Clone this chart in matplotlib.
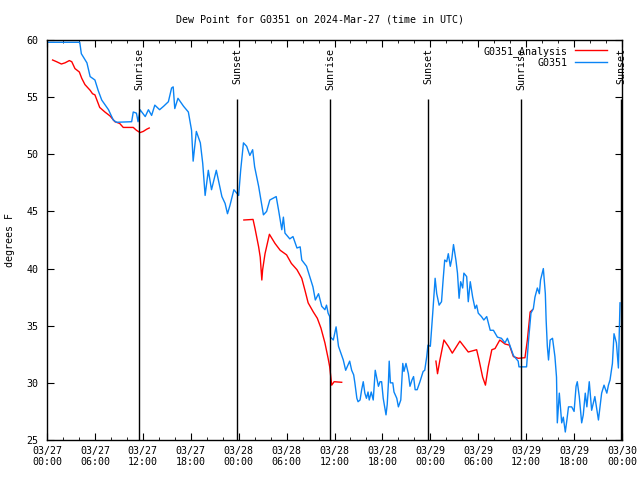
"""Dew point chart for station G0351, gnuplot-style look."""

import matplotlib

matplotlib.use("Agg")

import matplotlib.pyplot as plt  # noqa: E402
import numpy as np  # noqa: E402
from matplotlib.ticker import MultipleLocator  # noqa: E402

nan = np.nan

# hours since 2024-03-27 00:00 UTC
obs_hours = [
    0, 4.1, 4.3, 5.0, 5.4, 6.0, 6.4, 6.85, 7.7, 8.3, 8.7, 10.6, 10.8, 11.2, 11.4,
    11.65, 12.3, 12.7, 13.1, 13.5, 14.1, 14.6, 15.2, 15.6, 15.8, 16.0, 16.4, 17.1,
    17.7, 18.1, 18.3, 18.7, 19.2, 19.5, 19.8, 20.2, 20.6, 21.2, 21.9, 22.3, 22.6,
    22.9, 23.4, 24.0, 24.25, 24.6, 25.0, 25.4, 25.75, 26.0, 26.5, 27.1, 27.5, 27.9,
    28.7, 29.0, 29.4, 29.6, 29.8, 30.4, 30.8, 31.3, 31.7, 31.9, 32.5, 32.9, 33.3,
    33.6, 34.0, 34.4, 34.8, 35.0, 35.2, 35.4, 35.5, 35.85, 36.2, 36.5, 37.1, 37.4,
    37.9, 38.15, 38.4, 38.55, 38.8, 38.95, 39.2, 39.4, 39.6, 39.8, 40.0, 40.2,
    40.35, 40.6, 40.85, 41.1, 41.3, 41.5, 41.7, 41.9, 42.1, 42.3, 42.45, 42.6,
    42.75, 42.85, 43.0, 43.3, 43.45, 43.8, 44.0, 44.3, 44.55, 44.7, 44.95, 45.25,
    45.45, 45.7, 45.9, 46.1, 46.35, 46.7, 47.1, 47.3, 47.55, 47.7, 48.0, 48.3,
    48.6, 48.8, 49.1, 49.4, 49.6, 49.8, 50.05, 50.25, 50.5, 50.7, 50.9, 51.2,
    51.4, 51.6, 51.8, 52.05, 52.2, 52.55, 52.75, 53.0, 53.3, 53.6, 53.8, 54.0,
    54.4, 54.7, 55.06, 55.5, 55.9, 56.4, 56.9, 57.35, 57.65, 58.0, 58.4, 59.0,
    59.1, 60.05, 60.3, 60.6, 60.9, 61.1, 61.4, 61.65, 61.8, 62.15, 62.4, 62.5,
    62.65, 62.8, 63.0, 63.3, 63.6, 63.8, 63.9, 64.15, 64.45, 64.65, 64.9, 65.1,
    65.3, 65.7, 66.0, 66.25, 66.4, 66.65, 66.95, 67.15, 67.4, 67.6, 67.9, 68.2,
    68.6, 69.05, 69.45, 69.75, 70.1, 70.3, 70.5, 70.8, 71.0, 71.3, 71.55, 71.75,
]
obs_dewpt = [
    59.8, 59.8, 58.8, 58.0, 56.8, 56.5, 55.6, 54.75, 53.9, 53.0, 52.8, 52.85, 53.7,
    53.6, 52.85, 53.9, 53.3, 53.9, 53.4, 54.3, 53.9, 54.2, 54.6, 55.8, 55.9, 54.0,
    54.9, 54.2, 53.7, 52.1, 49.4, 52.0, 51.0, 49.2, 46.4, 48.6, 46.9, 48.6, 46.3,
    45.7, 44.8, 45.5, 46.9, 46.4, 48.6, 51.0, 50.7, 49.9, 50.4, 48.9, 47.2, 44.7,
    45.0, 46.0, 46.3, 45.1, 43.4, 44.5, 43.1, 42.6, 42.8, 41.8, 41.9, 40.75, 40.2,
    39.3, 38.4, 37.25, 37.8, 36.7, 36.4, 36.8, 36.1, 35.8, 34.0, 33.75, 34.9,
    33.2, 32.0, 31.1, 31.9, 31.1, 30.7, 30.0, 28.65, 28.35, 28.5, 29.4, 30.1,
    29.1, 28.65, 29.2, 28.5, 29.2, 28.5, 31.1, 30.4, 29.7, 30.1, 30.1, 28.65,
    27.8, 27.2, 28.1, 30.0, 31.9, 30.0, 30.0, 29.2, 28.65, 27.9, 28.5, 31.7, 31.0,
    31.7, 30.8, 29.7, 30.25, 30.55, 29.4, 29.4, 30.1, 31.0, 31.1, 32.3, 33.3,
    33.2, 36.1, 39.15, 37.8, 36.8, 37.1, 39.0, 40.75, 40.6, 41.3, 40.2, 40.9,
    42.1, 40.75, 39.6, 37.4, 38.85, 38.3, 39.6, 39.3, 37.1, 38.85, 37.5, 36.5,
    36.8, 36.1, 35.8, 35.5, 35.8, 34.6, 34.6, 34.0, 33.9, 33.5, 33.9, 33.2, 32.4,
    31.9, 31.4, 31.4, 33.75, 36.1, 36.5, 37.5, 38.3, 37.8, 39.0, 40.0, 37.8, 35.5,
    33.2, 32.0, 33.75, 33.9, 32.3, 30.5, 26.5, 29.1, 26.5, 27.0, 25.7, 26.75,
    27.9, 27.9, 27.5, 29.7, 30.1, 28.8, 26.5, 27.2, 29.1, 27.9, 30.1, 27.6, 28.8,
    26.75, 29.1, 29.8, 29.1, 29.8, 30.25, 31.7, 34.3, 33.5, 31.3, 37.0,
]

ana_hours = [
    0.7, 1.2, 1.8, 2.25, 2.8, 3.1, 3.5, 4.05, 4.35, 4.75, 5.4, 5.7, 6.0, 6.6, 7.25,
    7.9, 8.5, 9.1, 9.55, 10.8, 11.2, 11.65, 12.05, 12.5, 12.8,
    18.0,
    24.65, 25.8, 26.05, 26.5, 26.7, 26.9, 27.0, 27.3, 27.85, 28.55, 29.2, 30.0,
    30.6, 31.3, 31.9, 32.3, 32.7, 33.35, 33.85, 34.3, 34.8, 35.2, 35.4, 35.65,
    35.95, 36.9,
    42.0,
    48.7, 48.9, 49.2, 49.7, 50.25, 50.75, 51.7, 52.75, 53.8, 54.1, 54.55, 54.9,
    55.25, 55.7, 56.1, 56.7, 57.35, 57.9, 58.4, 59.0, 59.85, 60.15, 60.5, 60.8,
]
ana_dewpt = [
    58.25, 58.1, 57.9, 58.0, 58.2, 58.1, 57.5, 57.2, 56.65, 56.1, 55.6, 55.3, 55.2,
    54.1, 53.7, 53.35, 52.85, 52.7, 52.35, 52.35, 52.1, 51.9, 52.0, 52.2, 52.3,
    nan,
    44.25, 44.3, 43.5, 41.9, 41.0, 39.0, 39.9, 41.3, 43.0, 42.2, 41.6, 41.2,
    40.45, 39.9, 39.15, 38.1, 37.0, 36.2, 35.65, 34.8, 33.5, 32.15, 31.4, 29.8,
    30.1, 30.05,
    nan,
    31.9, 30.8, 32.0, 33.75, 33.2, 32.6, 33.65, 32.7, 32.9, 32.0, 30.5, 29.8,
    31.4, 32.9, 33.0, 33.75, 33.4, 33.3, 32.3, 32.15, 32.2, 33.75, 36.2, 36.4,
]

sun_hours = [11.52, 23.79, 35.44, 47.7, 59.35, 71.9]
sun_labels = ["Sunrise", "Sunset", "Sunrise", "Sunset", "Sunrise", "Sunset"]

tick_hours = list(range(0, 73, 6))
tick_labels = [
    "03/27\n00:00", "03/27\n06:00", "03/27\n12:00", "03/27\n18:00",
    "03/28\n00:00", "03/28\n06:00", "03/28\n12:00", "03/28\n18:00",
    "03/29\n00:00", "03/29\n06:00", "03/29\n12:00", "03/29\n18:00",
    "03/30\n00:00",
]

plt.rcParams["font.family"] = ["DejaVu Sans Mono"]
plt.rcParams["font.size"] = 7.2

fig = plt.figure(figsize=(6.4, 4.8), dpi=100)
ax = fig.add_axes([47 / 640, 40 / 480, 575 / 640, 400 / 480])

ax.plot(ana_hours, ana_dewpt, color="#ff0000", lw=1, label="G0351_Analysis")
ax.plot(obs_hours, obs_dewpt, color="#0a84f5", lw=1, label="G0351")

for h, name in zip(sun_hours, sun_labels):
    ax.vlines(h, 25, 54.8, color="black", lw=1)
    ax.text(h, 59.3, name, rotation=90, ha="center", va="top")

ax.set_xlim(0, 72)
ax.set_ylim(25, 60)
ax.set_xticks(tick_hours)
ax.set_xticklabels(tick_labels)
ax.xaxis.set_minor_locator(MultipleLocator(2))
ax.set_yticks(range(25, 61, 5))
ax.tick_params(which="both", direction="in", top=True, right=True, pad=4)
ax.tick_params(which="major", length=5)
ax.tick_params(which="minor", length=2.5)
ax.tick_params(axis="y", pad=6)
for s in ax.spines.values():
    s.set_linewidth(1)

fig.text(10 / 640, 0.5, "degrees F", rotation=90, ha="center", va="center")

ax.legend(loc="upper right", frameon=False, markerfirst=False,
          handlelength=3.2, borderaxespad=0.2, labelspacing=0.1,
          bbox_to_anchor=(0.985, 1.0))
fig.suptitle("Dew Point for G0351 on 2024-Mar-27 (time in UTC)", y=0.97,
             fontsize=7.2)

fig.savefig("out.png")
plt.close(fig)
